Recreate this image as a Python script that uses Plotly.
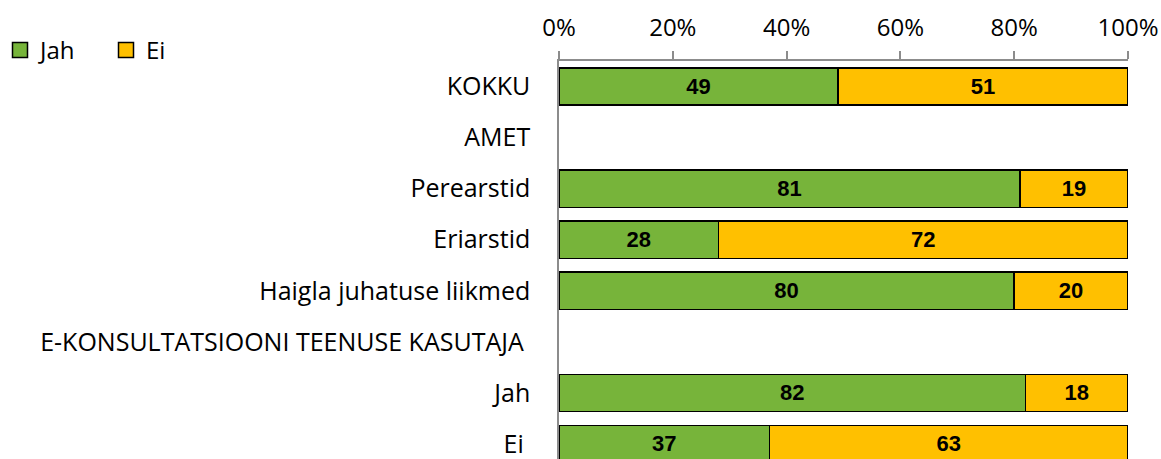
import plotly.graph_objects as go

categories = ["KOKKU", "AMET", "Perearstid", "Eriarstid", "Haigla juhatuse liikmed",
              "E-KONSULTATSIOONI TEENUSE KASUTAJA ", "Jah", "Ei "]
jah_values = [49, None, 81, 28, 80, None, 82, 37]
ei_values = [51, None, 19, 72, 20, None, 18, 63]
x_ticks = [0, 20, 40, 60, 80, 100]
x_tick_labels = ["0%", "20%", "40%", "60%", "80%", "100%"]

GREEN = "#77B43A"
YELLOW = "#FFC000"
label_font = dict(family="Liberation Sans Narrow, Arial Narrow, Liberation Sans", size=22, color="black")
FONT = "Open Sans, Noto Sans, sans-serif"

fig = go.Figure()
for name, vals, col in [("Jah", jah_values, GREEN), ("Ei", ei_values, YELLOW)]:
    fig.add_trace(go.Bar(
        y=categories, x=vals, name=name, orientation="h",
        marker=dict(color=col, line=dict(color="black", width=1.5)),
        width=0.73,
        text=[("" if v is None else str(v)) for v in vals],
        texttemplate="<b>%{text}</b>",
        textposition="inside", insidetextanchor="middle",
        textfont=label_font, constraintext="none",
        hoverinfo="skip", showlegend=False, legendgroup=name,
    ))
# legend entries with larger square swatches
for name, col in [("Jah", GREEN), ("Ei", YELLOW)]:
    fig.add_trace(go.Scatter(
        x=[None], y=[None], mode="markers", name=name, legendgroup=name,
        marker=dict(symbol="square", size=15, color=col, line=dict(color="black", width=1.5)),
        hoverinfo="skip",
    ))

fig.update_layout(
    barmode="stack",
    width=1161, height=459,
    margin=dict(l=559, r=33, t=61, b=0, autoexpand=False),
    paper_bgcolor="white", plot_bgcolor="white",
    font=dict(family=FONT, size=25, color="black"),
    showlegend=True,
    legend=dict(orientation="h", xref="container", yref="container",
                x=0.0, y=1 - 28 / 459, xanchor="left", yanchor="top",
                font=dict(size=24), itemwidth=30, entrywidth=61,
                traceorder="normal"),
    xaxis=dict(side="top", range=[0, 100], tickvals=x_ticks, ticktext=x_tick_labels,
               showgrid=False, zeroline=False, showline=True, linecolor="#8C8C8C",
               linewidth=1.5, ticks="outside", ticklen=8, tickcolor="#8C8C8C",
               tickwidth=1.5, tickfont=dict(size=24), ticklabelstandoff=6,
               automargin=False),
    yaxis=dict(categoryorder="array", categoryarray=categories,
               range=[7.294, -0.5], showgrid=False, zeroline=False,
               showline=True, linecolor="#8C8C8C", linewidth=1.5,
               ticks="", tickfont=dict(size=25), ticklabelstandoff=22,
               automargin=False),
)

fig.write_html("out.html", config={"displayModeBar": False},
               post_script="document.body.style.margin='0px';")
